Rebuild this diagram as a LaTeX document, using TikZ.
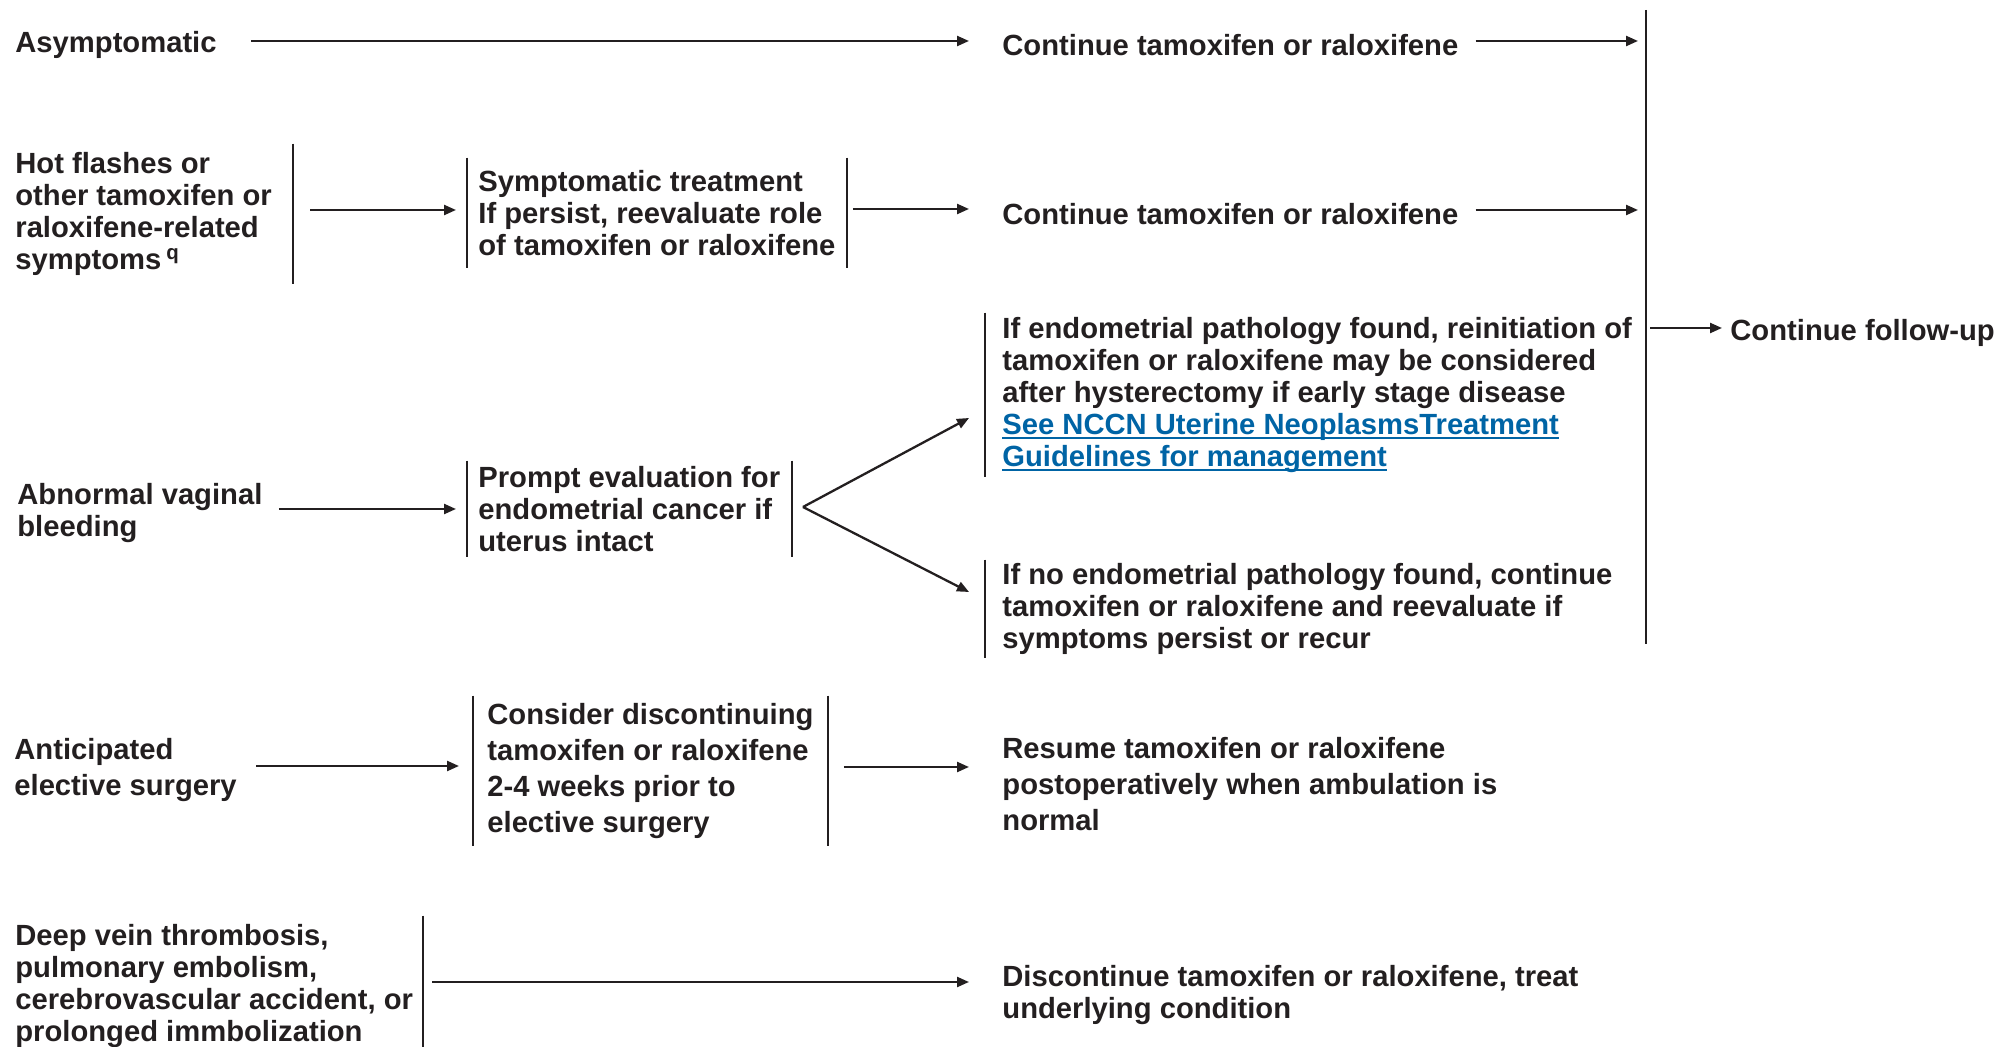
\documentclass[tikz,border=0pt]{standalone}
\usepackage{fontspec}
\setmainfont{Liberation Sans}
\usetikzlibrary{arrows.meta}

\definecolor{ink}{RGB}{35,31,32}
\definecolor{nccnblue}{RGB}{0,100,165}
\newsavebox{\linkbox}
\newcommand{\nccnlink}[1]{\textcolor{nccnblue}{\sbox{\linkbox}{#1}\rlap{\rule[-2.4pt]{\wd\linkbox}{1pt}}\usebox{\linkbox}}}

\tikzset{
  txt/.style={anchor=west, align=left, inner xsep=0pt, inner ysep=0pt, text=ink,
    font=\fontsize{14.6pt}{16pt}\selectfont\bfseries},
  wide/.style={font=\fontsize{14.6pt}{18pt}\selectfont\bfseries},
  res/.style={txt, inner xsep=8.5pt},
  lbar/.style={append after command={(\tikzlastnode.north west) edge[draw=ink, line width=1pt, -] (\tikzlastnode.south west)}},
  rbar/.style={append after command={(\tikzlastnode.north east) edge[draw=ink, line width=1pt, -] (\tikzlastnode.south east)}},
  flow/.style={-{Triangle[length=6pt, width=5pt]}, line width=1.15pt, color=ink},
}

\begin{document}
\begin{tikzpicture}[x=0.5pt, y=-0.5pt]
    \useasboundingbox (0, 0) rectangle (1999, 1047);

    % first column
    \node[txt] at (15, 45)(asym){Asymptomatic};
    \node[txt, rbar, inner xsep=10.5pt, minimum height=70pt] at (-6, 214)(hot){Hot flashes or\\other tamoxifen or\\raloxifene-related\\symptoms\,\textsuperscript{q}};
    \node[txt] at (17, 513)(bleed){Abnormal vaginal\\bleeding};
    \node[txt, wide] at (14, 770)(surg){Anticipated\\elective surgery};
    \node[txt, rbar, inner xsep=5pt, minimum height=70pt] at (5, 986)(dvt){Deep vein thrombosis,\\pulmonary embolism,\\cerebrovascular accident, or\\prolonged immbolization};

    % second column
    \node[txt, lbar, rbar, inner xsep=5.5pt, minimum height=55pt] at (467, 213)(sympt){Symptomatic treatment\\If persist, reevaluate role\\of tamoxifen or raloxifene};
    \node[txt, lbar, rbar, inner xsep=5.5pt, minimum height=48pt] at (467, 509)(evalu){Prompt evaluation for\\endometrial cancer if\\uterus intact};
    \node[txt, wide, lbar, rbar, inner xsep=7pt, minimum height=75pt] at (473, 771)(stopsurg){Consider discontinuing\\tamoxifen or raloxifene\\2-4 weeks prior to\\elective surgery};

    % third column
    \node[res] at (985, 45)(cont1){Continue tamoxifen or raloxifene};
    \node[res] at (985, 214)(cont2){Continue tamoxifen or raloxifene};
    \node[res, lbar, minimum height=82pt] at (985, 395)(found){If endometrial pathology found, reinitiation of\\tamoxifen or raloxifene may be considered\\after hysterectomy if early stage disease\\\nccnlink{See NCCN Uterine NeoplasmsTreatment}\\\nccnlink{Guidelines for management}};
    \node[res, lbar, minimum height=49pt] at (985, 609)(notfound){If no endometrial pathology found, continue\\tamoxifen or raloxifene and reevaluate if\\symptoms persist or recur};
    \node[res, wide] at (985, 784)(resume){Resume tamoxifen or raloxifene\\postoperatively when ambulation is\\normal};
    \node[res] at (985, 995)(quit){Discontinue tamoxifen or raloxifene, treat\\underlying condition};

    % follow-up
    \coordinate (futop) at (1646, 10);
    \coordinate (fubot) at (1646, 644);
    \draw[ink, line width=1pt] (futop) -- (fubot);
    \node[txt, inner xsep=4pt] at (1722, 333)(follow){Continue follow-up};
    \coordinate (fumid) at (1650, 328);

    \coordinate (fork) at (803, 507);

    \draw[flow] (fumid) -- ([yshift=2.5pt]follow.west);

    \begin{scope}[transform canvas={yshift=2pt}]
    \path[flow]
        (asym.east) edge[shorten <=17pt, shorten >=8pt] (asym.east -| cont1.west)
        (cont1.east) edge[shorten >=4pt] (cont1.east -| futop)
        (hot.east) edge[shorten <=8.5pt, shorten >=5.5pt] (hot.east -| sympt.west)
        (sympt.east) edge[shorten <=3pt, shorten >=8pt] (sympt.east -| cont2.west)
        (cont2.east) edge[shorten >=4pt] (cont2.east -| futop)
        (bleed.east) edge[shorten <=8pt, shorten >=5.5pt] (bleed.east -| evalu.west)
        (surg.east) edge[shorten <=9.5pt, shorten >=7pt] (surg.east -| stopsurg.west)
        (stopsurg.east) edge[shorten <=8pt, shorten >=8pt] (stopsurg.east -| resume.west)
        (dvt.east) edge[shorten <=4.5pt, shorten >=8pt] (dvt.east -| quit.west)
        ;
    \end{scope}
    \path[flow]
        (fork) edge ([xshift=-8pt, yshift=-11.5pt]found.west)
        (fork) edge ([xshift=-8pt, yshift=8.5pt]notfound.west)
        ;
\end{tikzpicture}
\end{document}
